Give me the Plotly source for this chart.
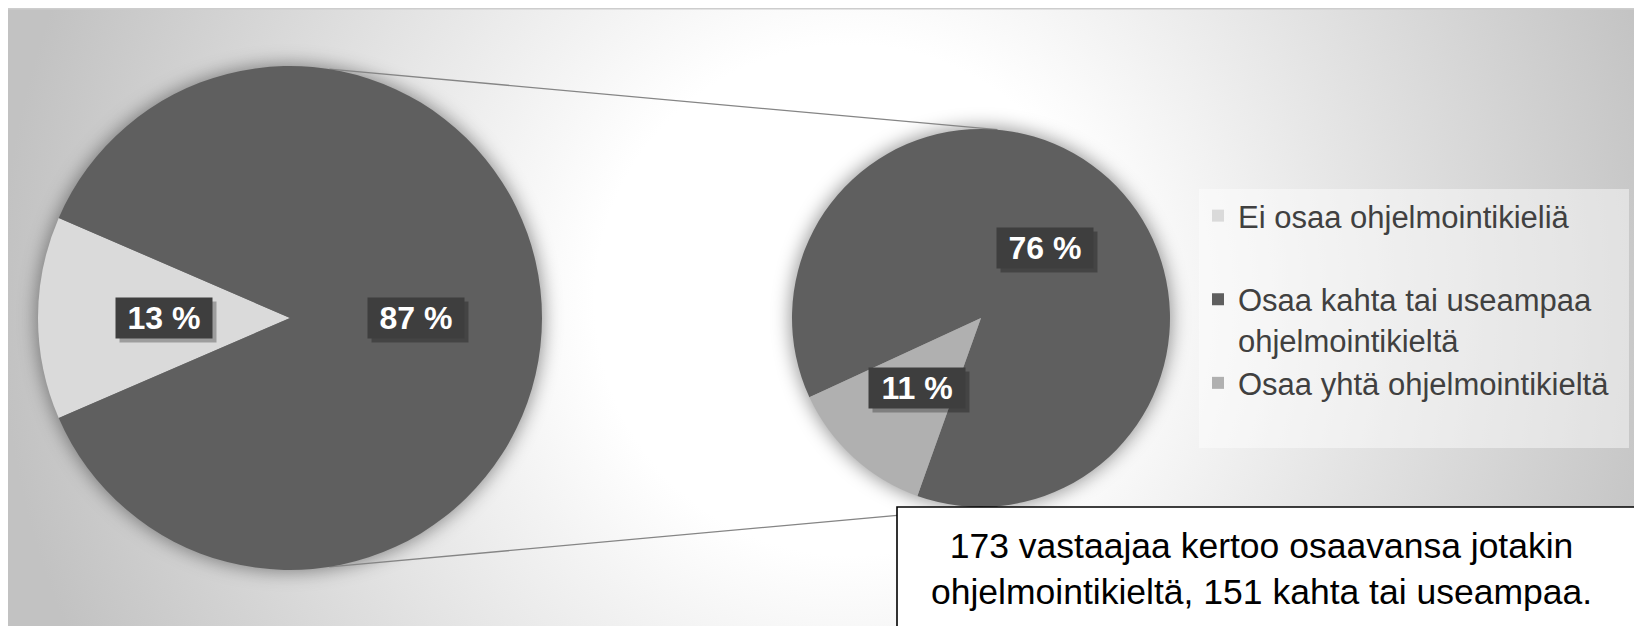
import base64
import math
import plotly.graph_objects as go

# ---------------- data ----------------
categories = ["Ei osaa ohjelmointikieliä",
              "Osaa kahta tai useampaa ohjelmointikieltä",
              "Osaa yhtä ohjelmointikieltä"]
values = [13, 76, 11]                      # percent of all respondents
legend_labels = ["Ei osaa ohjelmointikieliä<br>\u00a0",
                 "Osaa kahta tai useampaa<br>ohjelmointikieltä",
                 "Osaa yhtä ohjelmointikieltä"]
other_label = "Osaa ohjelmointikieliä"
note_text = "173 vastaajaa kertoo osaavansa jotakin<br>ohjelmointikieltä, 151 kahta tai useampaa."

# ---------------- style / layout ----------------
OFF = 8                                    # page offset (top / left)
W, H = 1634 - OFF, 626 - OFF
FONT = "Liberation Sans, Arial, sans-serif"
c_light, c_dark, c_mid = "#dadada", "#5f5f5f", "#b0b0b0"
L_CX, L_CY, L_R = 290, 318, 252           # main pie (screen pixels)
R_CX, R_CY, R_R = 981, 318, 189           # secondary pie (screen pixels)
left_rotation = 270 - 0.5 * 360 * values[0] / 100
right_rotation = 245.2


def px(x):
    return (x - OFF) / W


def py(y):
    return 1 - (y - OFF) / H


left_vals = [values[0], values[1] + values[2]]
right_vals = [0, values[1], values[2]]

fig = go.Figure()
fig.add_trace(go.Pie(
    labels=[legend_labels[0], other_label], values=left_vals,
    marker=dict(colors=[c_light, c_dark], line=dict(width=0)),
    sort=False, direction="clockwise", rotation=left_rotation,
    textinfo="none", hoverinfo="label+percent", showlegend=False,
    domain=dict(x=[px(L_CX - L_R), px(L_CX + L_R)], y=[py(L_CY + L_R), py(L_CY - L_R)]),
))
fig.add_trace(go.Pie(
    labels=legend_labels, values=right_vals,
    marker=dict(colors=[c_light, c_dark, c_mid], line=dict(width=0)),
    sort=False, direction="clockwise", rotation=right_rotation,
    textinfo="none", hoverinfo="label+value", showlegend=True,
    domain=dict(x=[px(R_CX - R_R), px(R_CX + R_R)], y=[py(R_CY + R_R), py(R_CY - R_R)]),
))

# ---------------- percentage labels (placed at slice mid-angles) ----------------
annotations = []


def add_labels(vals, rotation, cx, cy, r):
    total = sum(vals)
    ang = rotation
    for v in vals:
        span = 360 * v / total
        if v > 0:
            mid = math.radians(ang + span / 2)
            x = cx + 0.5 * r * math.sin(mid)
            y = cy - 0.5 * r * math.cos(mid)
            txt = f"{v} %"
            annotations.append(dict(x=px(x), y=py(y), xref="paper", yref="paper",
                                    xanchor="center", yanchor="middle",
                                    text=" ", showarrow=False, width=94, height=38,
                                    bgcolor="rgba(0,0,0,0.28)", xshift=4, yshift=-4))
            annotations.append(dict(x=px(x), y=py(y), xref="paper", yref="paper",
                                    xanchor="center", yanchor="middle",
                                    text=f"<b>{txt}</b>", showarrow=False, width=94, height=38,
                                    bgcolor="#3e3e3e", borderpad=1,
                                    font=dict(family=FONT, size=32, color="white")))
        ang += span


add_labels(left_vals, left_rotation, L_CX, L_CY, L_R)
add_labels([values[1], values[2]], right_rotation, R_CX, R_CY, R_R)

# note box text
annotations.append(dict(x=px(1261), y=py(569), xref="paper", yref="paper",
                        text=note_text, showarrow=False, align="center",
                        xanchor="center", yanchor="middle",
                        font=dict(family=FONT, size=35.5, color="black")))

# ---------------- shapes ----------------
shapes = []


def circ_pt(cx, cy, r, deg):
    a = math.radians(deg)
    return cx + r * math.sin(a), cy - r * math.cos(a)


for la, ra in [(9, 5), (171, 175)]:
    x0, y0 = circ_pt(L_CX, L_CY, L_R, la)
    x1, y1 = circ_pt(R_CX, R_CY, R_R, ra)
    shapes.append(dict(type="line", xref="paper", yref="paper", x0=px(x0), y0=py(y0),
                       x1=px(x1), y1=py(y1), line=dict(color="#858585", width=1.3),
                       layer="below"))

# legend panel
shapes.append(dict(type="rect", xref="paper", yref="paper", x0=px(1199), x1=px(1629),
                   y0=py(448), y1=py(189), fillcolor="rgba(255,255,255,0.45)",
                   line=dict(width=0), layer="below"))
# note box
shapes.append(dict(type="rect", xref="paper", yref="paper", x0=px(897), x1=px(1650),
                   y0=py(640), y1=py(507), fillcolor="white",
                   line=dict(color="black", width=1.6), layer="above"))

# ---------------- background (radial gradient + soft pie shadows) ----------------
svg = f'''<svg xmlns="http://www.w3.org/2000/svg" width="{W}" height="{H}" viewBox="0 0 {W} {H}">
<defs>
<radialGradient id="g" gradientUnits="userSpaceOnUse" cx="{850 - OFF}" cy="{300 - OFF}" r="850">
<stop offset="0" stop-color="#ffffff"/><stop offset="0.3" stop-color="#ffffff"/>
<stop offset="1" stop-color="#c2c2c2"/></radialGradient>
<filter id="b" x="-30%" y="-30%" width="160%" height="160%"><feGaussianBlur stdDeviation="9"/></filter>
</defs>
<rect width="{W}" height="{H}" fill="url(#g)"/>
<line x1="0" y1="0.5" x2="{W}" y2="0.5" stroke="#cdcdcd" stroke-width="2"/>
<circle cx="{L_CX - OFF}" cy="{L_CY - OFF}" r="{L_R + 2}" fill="#000" fill-opacity="0.4" filter="url(#b)"/>
<circle cx="{R_CX - OFF}" cy="{R_CY - OFF}" r="{R_R + 2}" fill="#000" fill-opacity="0.4" filter="url(#b)"/>
</svg>'''
bg_src = "data:image/svg+xml;base64," + base64.b64encode(svg.encode("utf-8")).decode("ascii")

fig.update_layout(
    width=W, height=H,
    margin=dict(l=0, r=0, t=0, b=0),
    paper_bgcolor="white",
    images=[dict(source=bg_src, xref="paper", yref="paper", x=0, y=1, sizex=1, sizey=1,
                 xanchor="left", yanchor="top", sizing="stretch", layer="below")],
    shapes=shapes,
    annotations=annotations,
    legend=dict(x=px(1198), xanchor="left", y=py(189), yanchor="top",
                bgcolor="rgba(0,0,0,0)", valign="top", traceorder="normal",
                font=dict(family=FONT, size=31, color="#404040")),
    font=dict(family=FONT),
)

fig.write_html(
    "out.html",
    post_script="document.body.style.margin='8px 0 0 8px';"
                "document.body.style.overflow='hidden';"
                "document.documentElement.style.overflow='hidden';",
)
